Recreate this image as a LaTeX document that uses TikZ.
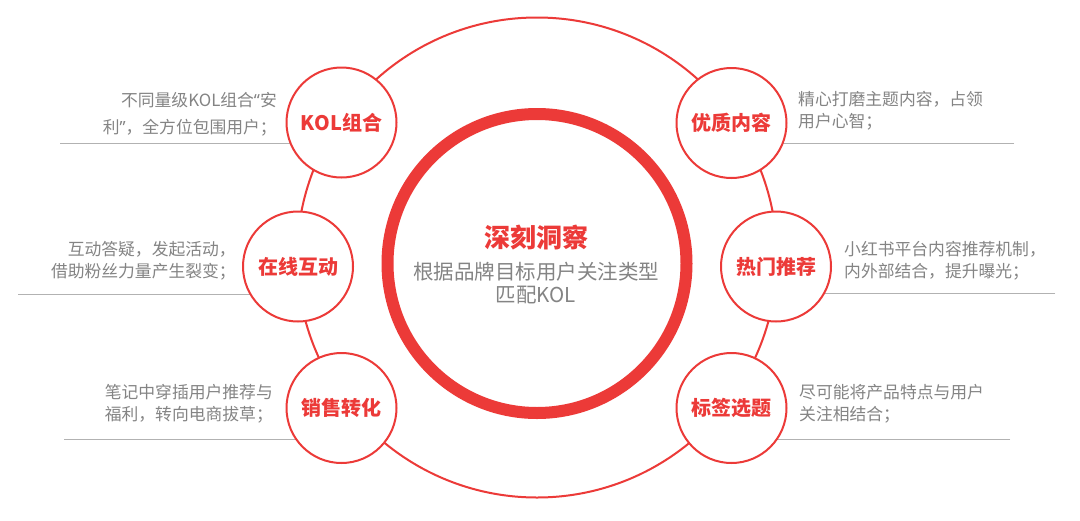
\documentclass[tikz,border=0pt]{standalone}
\usepackage{fontspec}
\setmainfont{Noto Sans CJK SC}
\newfontfamily\latinq{Noto Sans}
\definecolor{brandred}{RGB}{236,58,56}
\definecolor{txtgray}{RGB}{132,132,132}
\definecolor{rulegray}{RGB}{178,178,178}
\begin{document}
\begin{tikzpicture}[x=1pt,y=-1pt,
  topic/.style={circle,draw=brandred,line width=2pt,fill=white,minimum size=110pt,inner sep=0pt,text=brandred,font=\fontsize{20}{24}\selectfont\bfseries},
  desc/.style={inner sep=0pt,text=txtgray,font=\fontsize{16.8}{22}\selectfont},
  rulestyle/.style={draw=rulegray,line width=1pt},
  orbit/.style={draw=brandred,line width=2pt},
  corering/.style={circle,draw=brandred,line width=12pt,minimum size=299pt,inner sep=0pt},
]
\fill[white] (0,0) rectangle (1080,520);
\useasboundingbox (0,0) rectangle (1080,520);

% centres
\coordinate (hub) at (537,257.5);
\coordinate (kolc) at (341.5,122.5);
\coordinate (zxc) at (298,266.5);
\coordinate (xsc) at (341.5,408);
\coordinate (yzc) at (731.5,123);
\coordinate (rmc) at (776,266.5);
\coordinate (bqc) at (731.5,408);

% rule end points
\coordinate (ltr) at (60,143.5);
\coordinate (lmr) at (18,294);
\coordinate (lbr) at (64,439);
\coordinate (rtr) at (1014,143);
\coordinate (rmr) at (1055,293);
\coordinate (rbr) at (1010,439);

% orbit circle
\draw[orbit] (hub) circle[radius=240pt];

% horizontal rules (behind the circles)
\draw[rulestyle] (ltr) -- (ltr -| kolc);
\draw[rulestyle] (lmr) -- (lmr -| zxc);
\draw[rulestyle] (lbr) -- (lbr -| xsc);
\draw[rulestyle] (rtr) -- (rtr -| yzc);
\draw[rulestyle] (rmr) -- (rmr -| rmc);
\draw[rulestyle] (rbr) -- (rbr -| bqc);

% topic circles
\node[topic] (kol) at (kolc) {KOL组合};
\node[topic] (zx) at (zxc) {在线互动};
\node[topic] (xs) at (xsc) {销售转化};
\node[topic] (yz) at (yzc) {优质内容};
\node[topic] (rm) at (rmc) {热门推荐};
\node[topic] (bq) at (bqc) {标签选题};

% core ring
\node[corering] (core) at (537,263.5) {};
\node[inner sep=0pt,text=brandred,font=\fontsize{26}{30}\selectfont\bfseries] (title) at (536,238) {深刻洞察};
\node[inner sep=0pt,text=txtgray,align=center,font=\fontsize{20.5}{23}\selectfont] (sub) at (536,283.5) {根据品牌目标用户关注类型\\匹配KOL};

% descriptions
\node[desc,anchor=east,align=right] (ltd) at (277,114) {不同量级KOL组合{\latinq “}安\\[5pt]利{\latinq ”}，全方位包围用户；};
\node[desc,anchor=east,align=right] (lmd) at (236,260.3) {互动答疑，发起活动，\\借助粉丝力量产生裂变；};
\node[desc,anchor=east,align=left] (lbd) at (273,403.5) {笔记中穿插用户推荐与\\福利，转向电商拔草；};
\node[desc,anchor=west,align=left] (rtd) at (798,110.5) {精心打磨主题内容，占领\\用户心智；};
\node[desc,anchor=west,align=left] (rmd) at (844,260.5) {小红书平台内容推荐机制，\\内外部结合，提升曝光；};
\node[desc,anchor=west,align=left] (rbd) at (799,403.5) {尽可能将产品特点与用户\\关注相结合；};
\end{tikzpicture}
\end{document}
